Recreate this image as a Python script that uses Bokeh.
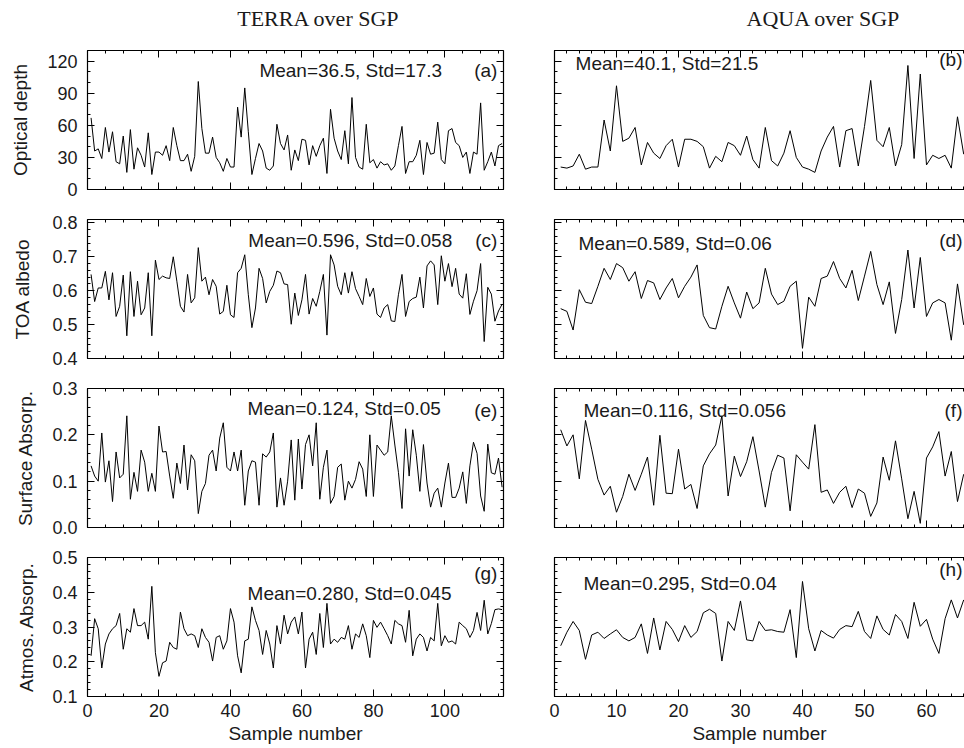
from bokeh.plotting import figure
from bokeh.models import (LinearAxis, FixedTicker, PrintfTickFormatter, Label, Range1d,
                          CustomLabelingPolicy)
from bokeh.layouts import column, row
from bokeh.embed import file_html
from bokeh.resources import INLINE

# ---------------- data ----------------
col_titles = ["TERRA over SGP", "AQUA over SGP"]
row_labels = ["Optical depth", "TOA albedo", "Surface Absorp.", "Atmos. Absorp."]
x_label = "Sample number"

terra_tau = [67, 36, 38, 29, 58, 35, 54, 26, 24, 50, 16, 56, 19, 39, 32, 21, 53, 14, 35, 35,
             32, 41, 27, 58, 41, 27, 27, 33, 17, 31, 101, 57, 34, 34, 49, 30, 25, 17, 29, 21,
             21, 77, 49, 95, 54, 14, 29, 43, 36, 20, 18, 22, 61, 43, 37, 51, 18, 37, 27, 47,
             46, 23, 41, 31, 41, 48, 15, 75, 48, 36, 28, 55, 24, 86, 30, 21, 19, 61, 25, 28,
             20, 26, 23, 24, 18, 22, 41, 59, 15, 26, 26, 32, 46, 14, 44, 33, 34, 63, 28, 24,
             55, 57, 44, 41, 30, 35, 15, 35, 33, 81, 18, 26, 35, 22, 41, 43]
terra_alb = [0.648, 0.568, 0.608, 0.608, 0.657, 0.573, 0.653, 0.524, 0.554, 0.646,
             0.467, 0.656, 0.524, 0.628, 0.529, 0.549, 0.653, 0.467, 0.690, 0.633,
             0.643, 0.638, 0.636, 0.700, 0.628, 0.554, 0.537, 0.648, 0.564, 0.579,
             0.727, 0.628, 0.640, 0.588, 0.633, 0.613, 0.531, 0.539, 0.616, 0.529,
             0.521, 0.653, 0.666, 0.706, 0.588, 0.491, 0.549, 0.666, 0.636, 0.564,
             0.598, 0.616, 0.658, 0.653, 0.620, 0.618, 0.501, 0.593, 0.527, 0.573,
             0.648, 0.531, 0.577, 0.554, 0.598, 0.648, 0.469, 0.706, 0.676, 0.613,
             0.588, 0.653, 0.593, 0.656, 0.606, 0.583, 0.559, 0.636, 0.583, 0.608,
             0.531, 0.521, 0.549, 0.559, 0.511, 0.509, 0.588, 0.648, 0.524, 0.568,
             0.577, 0.581, 0.640, 0.549, 0.673, 0.688, 0.676, 0.559, 0.703, 0.628,
             0.680, 0.612, 0.666, 0.590, 0.578, 0.650, 0.530, 0.569, 0.600, 0.680,
             0.450, 0.610, 0.590, 0.510, 0.540, 0.560]
terra_sfc = [0.133, 0.111, 0.100, 0.204, 0.098, 0.144, 0.056, 0.163, 0.107, 0.115,
             0.241, 0.061, 0.119, 0.078, 0.167, 0.141, 0.078, 0.117, 0.078, 0.219,
             0.163, 0.164, 0.111, 0.063, 0.139, 0.095, 0.178, 0.081, 0.157, 0.144,
             0.030, 0.078, 0.095, 0.156, 0.167, 0.122, 0.193, 0.226, 0.130, 0.122,
             0.163, 0.122, 0.167, 0.048, 0.122, 0.144, 0.141, 0.048, 0.159, 0.152,
             0.163, 0.204, 0.044, 0.107, 0.048, 0.100, 0.189, 0.059, 0.191, 0.083,
             0.179, 0.200, 0.133, 0.226, 0.061, 0.130, 0.167, 0.052, 0.067, 0.130,
             0.137, 0.059, 0.100, 0.085, 0.104, 0.142, 0.126, 0.067, 0.200, 0.067,
             0.178, 0.167, 0.156, 0.163, 0.241, 0.178, 0.119, 0.041, 0.213, 0.111,
             0.211, 0.156, 0.078, 0.179, 0.096, 0.044, 0.074, 0.085, 0.044, 0.096,
             0.139, 0.065, 0.065, 0.085, 0.120, 0.052, 0.133, 0.184, 0.160, 0.068,
             0.035, 0.180, 0.118, 0.115, 0.150, 0.087]
terra_atm = [0.217, 0.324, 0.295, 0.182, 0.251, 0.280, 0.295, 0.304, 0.339, 0.236,
             0.295, 0.285, 0.353, 0.304, 0.304, 0.314, 0.265, 0.417, 0.226, 0.158,
             0.197, 0.202, 0.256, 0.241, 0.236, 0.343, 0.295, 0.275, 0.280, 0.275,
             0.241, 0.295, 0.270, 0.256, 0.202, 0.270, 0.275, 0.236, 0.260, 0.353,
             0.314, 0.217, 0.168, 0.260, 0.265, 0.358, 0.319, 0.290, 0.221, 0.290,
             0.251, 0.182, 0.304, 0.251, 0.334, 0.280, 0.314, 0.329, 0.280, 0.343,
             0.182, 0.265, 0.285, 0.221, 0.339, 0.241, 0.368, 0.251, 0.265, 0.256,
             0.270, 0.265, 0.304, 0.236, 0.280, 0.270, 0.309, 0.275, 0.212, 0.319,
             0.299, 0.314, 0.295, 0.275, 0.251, 0.319, 0.309, 0.304, 0.256, 0.348,
             0.217, 0.265, 0.280, 0.270, 0.231, 0.270, 0.260, 0.368, 0.246, 0.275,
             0.256, 0.260, 0.251, 0.314, 0.304, 0.295, 0.270, 0.290, 0.342, 0.290,
             0.377, 0.280, 0.310, 0.350, 0.352, 0.350]

aqua_tau = [21, 20, 22, 33, 19, 21, 21, 65, 36, 97, 45, 48, 58, 23, 44, 34, 29, 41, 47, 21,
            47, 47, 45, 40, 20, 31, 26, 44, 41, 32, 50, 28, 20, 58, 27, 22, 34, 55, 30, 21,
            19, 16, 36, 49, 59, 21, 55, 57, 22, 59, 102, 46, 40, 58, 22, 42, 116, 29, 108, 23,
            32, 29, 32, 20, 68, 33]
aqua_alb = [0.547, 0.539, 0.484, 0.603, 0.566, 0.562, 0.613, 0.666, 0.633, 0.680,
            0.668, 0.628, 0.656, 0.577, 0.630, 0.623, 0.574, 0.608, 0.636, 0.579,
            0.613, 0.640, 0.676, 0.527, 0.491, 0.487, 0.554, 0.613, 0.564, 0.519,
            0.596, 0.547, 0.564, 0.666, 0.590, 0.559, 0.569, 0.613, 0.628, 0.430,
            0.581, 0.554, 0.636, 0.643, 0.686, 0.636, 0.608, 0.660, 0.571, 0.643,
            0.716, 0.618, 0.559, 0.626, 0.474, 0.574, 0.720, 0.549, 0.698, 0.524,
            0.564, 0.574, 0.564, 0.454, 0.620, 0.499]
aqua_sfc = [0.211, 0.176, 0.200, 0.105, 0.231, 0.169, 0.104, 0.070, 0.089, 0.033,
            0.067, 0.115, 0.080, 0.115, 0.152, 0.048, 0.199, 0.074, 0.073, 0.169,
            0.083, 0.093, 0.041, 0.133, 0.159, 0.178, 0.241, 0.068, 0.154, 0.110,
            0.142, 0.196, 0.122, 0.044, 0.119, 0.156, 0.150, 0.036, 0.157, 0.141,
            0.126, 0.222, 0.076, 0.081, 0.052, 0.076, 0.089, 0.043, 0.083, 0.074,
            0.024, 0.053, 0.152, 0.102, 0.187, 0.105, 0.019, 0.078, 0.009, 0.150,
            0.174, 0.207, 0.111, 0.164, 0.056, 0.115]
aqua_atm = [0.246, 0.285, 0.316, 0.290, 0.207, 0.277, 0.285, 0.267, 0.280, 0.292,
            0.270, 0.260, 0.270, 0.309, 0.224, 0.326, 0.234, 0.316, 0.293, 0.258,
            0.304, 0.270, 0.287, 0.341, 0.351, 0.339, 0.202, 0.316, 0.290, 0.375,
            0.263, 0.260, 0.316, 0.290, 0.292, 0.287, 0.285, 0.350, 0.212, 0.431,
            0.295, 0.231, 0.290, 0.277, 0.268, 0.293, 0.304, 0.301, 0.345, 0.287,
            0.267, 0.332, 0.293, 0.277, 0.336, 0.316, 0.267, 0.371, 0.302, 0.322,
            0.265, 0.224, 0.324, 0.378, 0.326, 0.378]

stats_text = [["Mean=36.5, Std=17.3", "Mean=40.1, Std=21.5"],
              ["Mean=0.596, Std=0.058", "Mean=0.589, Std=0.06"],
              ["Mean=0.124, Std=0.05", "Mean=0.116, Std=0.056"],
              ["Mean=0.280, Std=0.045", "Mean=0.295, Std=0.04"]]
panel_tags = [["(a)", "(b)"], ["(c)", "(d)"], ["(e)", "(f)"], ["(g)", "(h)"]]

y_ranges = [(0, 130), (0.4, 0.81), (0.0, 0.3), (0.1, 0.5)]
y_major = [[0, 30, 60, 90, 120],
           [0.4, 0.5, 0.6, 0.7, 0.8],
           [0.0, 0.1, 0.2, 0.3],
           [0.1, 0.2, 0.3, 0.4, 0.5]]
y_minor = [list(range(0, 131, 10)),
           [round(0.4 + 0.02 * k, 3) for k in range(21)],
           [round(0.0 + 0.02 * k, 3) for k in range(16)],
           [round(0.1 + 0.02 * k, 3) for k in range(21)]]
y_fmt = ["%d", "%.1f", "%.1f", "%.1f"]

x_ranges = [(0, 116.4), (0, 66.13)]
x_major = [[0, 20, 40, 60, 80, 100], [0, 10, 20, 30, 40, 50, 60]]
x_minor = [list(range(0, 120, 5)), list(range(0, 68, 2))]

series = [[terra_tau, aqua_tau], [terra_alb, aqua_alb],
          [terra_sfc, aqua_sfc], [terra_atm, aqua_atm]]

# ---------------- layout helpers ----------------
SANS = "Liberation Sans"
SERIF = "Liberation Serif"
TXT = "#1a1a1a"

TOTAL_W = 964
LEFT_W = 528
TITLE_H = 35
row_heights = [169, 169, 169, 206]
top_borders = [15, 15, 15, 15]
bottom_borders = [15, 15, 15, 52]
ylabel_standoff = [13, 16, 13, 12]

# positions of annotations (data space)
stat_pos = [[(48.1, 111.3), (3.4, 117.8)],
            [(45.0, 0.748), (3.87, 0.739)],
            [(44.8, 0.2568), (4.68, 0.2525)],
            [(44.8, 0.3964), (4.68, 0.4252)]]
tag_pos = [[(114.7, 111.3), (65.8, 121.6)],
           [(114.7, 0.748), (65.8, 0.748)],
           [(114.7, 0.2525), (65.8, 0.2525)],
           [(114.7, 0.454), (65.8, 0.4655)]]

NO_LABELS = CustomLabelingPolicy(code="return new Set()")


def style_axis(ax, major, minor, fmt, show_labels, standoff):
    ax.ticker = FixedTicker(ticks=major, minor_ticks=minor)
    ax.formatter = PrintfTickFormatter(format=fmt)
    ax.axis_line_color = "black"
    ax.axis_line_width = 1.2
    ax.major_tick_in = 7
    ax.major_tick_out = 0
    ax.minor_tick_in = 3
    ax.minor_tick_out = 0
    ax.major_tick_line_color = "black"
    ax.minor_tick_line_color = "black"
    ax.major_label_text_font = SANS
    ax.major_label_text_color = TXT
    if show_labels:
        ax.major_label_text_font_size = "18px"
        ax.major_label_standoff = standoff
    else:
        ax.major_label_policy = NO_LABELS
        ax.major_label_standoff = 0


# title strip
title_fig = figure(width=TOTAL_W, height=TITLE_H, x_range=Range1d(0, TOTAL_W),
                   y_range=Range1d(0, TITLE_H), x_axis_type=None, y_axis_type=None,
                   output_backend="svg", toolbar_location=None, min_border=0)
title_fig.outline_line_color = None
title_x = [318, 823]
for c in range(2):
    title_fig.add_layout(Label(x=title_x[c], y=TITLE_H - 18, text=col_titles[c],
                               text_font=SERIF, text_font_size="22px", text_color=TXT,
                               text_align="center", text_baseline="middle"))

rows = [title_fig]
for r in range(4):
    figs = []
    for c in range(2):
        is_left = (c == 0)
        p = figure(width=LEFT_W if is_left else TOTAL_W - LEFT_W, height=row_heights[r],
                   x_range=Range1d(*x_ranges[c]), y_range=Range1d(*y_ranges[r]),
                   x_axis_type=None, y_axis_type=None,
                   output_backend="svg", toolbar_location=None,
                   min_border_left=87 if is_left else 26,
                   min_border_right=25 if is_left else 0,
                   min_border_top=top_borders[r],
                   min_border_bottom=bottom_borders[r])
        p.outline_line_color = None
        p.background_fill_color = "white"
        p.border_fill_color = "white"

        bottom = LinearAxis()
        style_axis(bottom, x_major[c], x_minor[c], "%d", r == 3, 7)
        if r == 3:
            bottom.axis_label = x_label
            bottom.axis_label_text_font = SANS
            bottom.axis_label_text_font_size = "19px"
            bottom.axis_label_text_font_style = "normal"
            bottom.axis_label_text_color = TXT
            bottom.axis_label_standoff = 3
        p.add_layout(bottom, "below")
        top = LinearAxis()
        style_axis(top, x_major[c], x_minor[c], "%d", False, 0)
        p.add_layout(top, "above")
        left = LinearAxis()
        style_axis(left, y_major[r], y_minor[r], y_fmt[r], is_left, 10)
        if is_left:
            left.axis_label = row_labels[r]
            left.axis_label_text_font = SANS
            left.axis_label_text_font_size = "19px"
            left.axis_label_text_font_style = "normal"
            left.axis_label_text_color = TXT
            left.axis_label_standoff = ylabel_standoff[r]
        p.add_layout(left, "left")
        if is_left:
            right = LinearAxis()
            style_axis(right, y_major[r], y_minor[r], y_fmt[r], False, 0)
            p.add_layout(right, "right")

        x = list(range(1, len(series[r][c]) + 1))
        p.line(x, series[r][c], line_color="black", line_width=1)

        sx, sy = stat_pos[r][c]
        p.add_layout(Label(x=sx, y=sy, text=stats_text[r][c], text_font=SANS,
                           text_font_size="19px", text_color=TXT,
                           text_align="left", text_baseline="middle"))
        tx, ty = tag_pos[r][c]
        p.add_layout(Label(x=tx, y=ty, text=panel_tags[r][c], text_font=SANS,
                           text_font_size="19px", text_color=TXT,
                           text_align="right", text_baseline="middle"))
        figs.append(p)
    rows.append(row(*figs))

layout = column(*rows)
open("out.html", "w").write(file_html(layout, INLINE))
